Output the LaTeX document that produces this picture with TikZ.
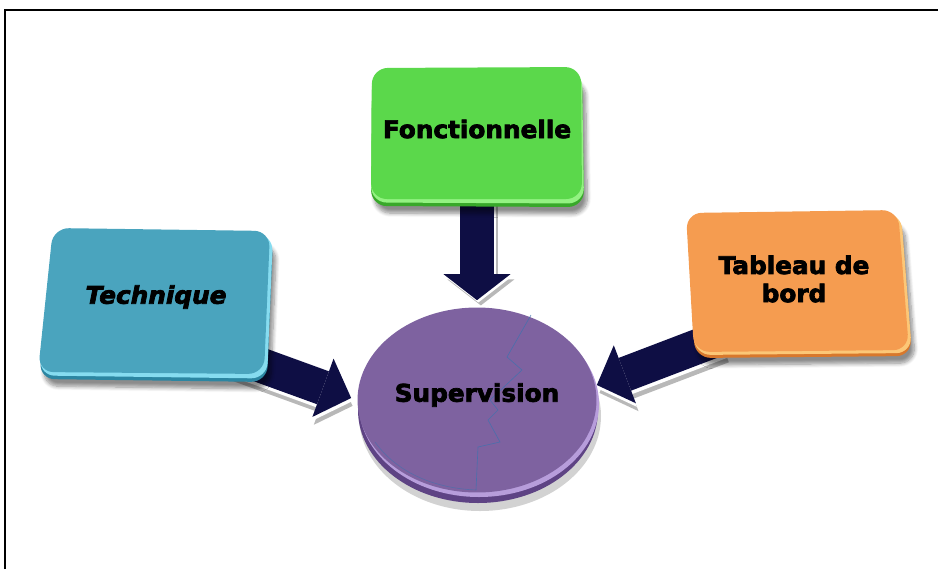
\documentclass[tikz,border=0pt]{standalone}
\usepackage{fontspec}
\setmainfont{DejaVu Sans}
\newfontfamily\labelfont{DejaVu Sans}[UprightFont={* Bold}, ItalicFont={* Bold Oblique},
  BoldFont={* Bold}, BoldItalicFont={* Bold Oblique}, FakeStretch=1.02, FakeBold=3]
\usetikzlibrary{arrows.meta,shapes.geometric,shadows.blur,calc}

\definecolor{techface}{HTML}{4AA4BE}
\definecolor{techlight}{HTML}{86DCF0}
\definecolor{techdark}{HTML}{2C86A2}
\definecolor{fonface}{HTML}{5BD84B}
\definecolor{fonlight}{HTML}{93F282}
\definecolor{fondark}{HTML}{38A82A}
\definecolor{tabface}{HTML}{F59C50}
\definecolor{tablight}{HTML}{FCC777}
\definecolor{tabdark}{HTML}{D8782C}
\definecolor{supface}{HTML}{7E62A0}
\definecolor{supside}{HTML}{5E4384}
\definecolor{suprim}{HTML}{B79DDB}
\definecolor{arrowfill}{HTML}{0E0E44}
\definecolor{crack}{HTML}{3E72AE}

\pgfdeclarelayer{back}
\pgfsetlayers{back,main}

\tikzset{
  label text/.style={font=\labelfont\fontsize{13.8}{16}\selectfont, text=black, align=center, inner sep=0pt},
  slab/.style={rounded corners=9pt},
  slab shadow/.style={blur shadow={shadow xshift=2pt, shadow yshift=-4pt, shadow blur steps=8, shadow opacity=45}},
  blockarrow/.style={line width=0.7cm, draw=arrowfill, line cap=butt,
    -{Triangle[width=1.24cm, length=0.6cm, line width=0pt]}},
  toparrow/.style={blockarrow, -{Triangle[width=1.34cm, length=0.52cm, line width=0pt]}},
  arrowglow/.style={draw=white},
  arrowshade/.style={draw=black!28},
}

\begin{document}
\begin{tikzpicture}[x=0.02cm, y=-0.02cm]
  \useasboundingbox (0,0) rectangle (938,569);

  % page frame (top and left rules)
  \draw[line width=1.3pt] (5,569) -- (5,10) -- (938,10);

  % --- Technique slab ---
  \path[slab, slab shadow, fill=techdark, shift={(1,7)}]
    (53,228) -- (272,231) -- (266,375) -- (38,372) -- cycle;
  \path[slab, fill=techlight, shift={(1,3.5)}]
    (53,228) -- (272,231) -- (266,375) -- (38,372) -- cycle;
  \path[slab, fill=techface]
    (53,228) -- (270,231) -- (264,374) -- (38,372) -- cycle;
  \node[label text, font=\labelfont\itshape\fontsize{13.8}{16}\selectfont] (tech) at (156,297) {Technique};

  % --- Fonctionnelle slab ---
  \path[slab, slab shadow, fill=fondark, shift={(0,7)}]
    (372,68) -- (582,67) -- (584,200) -- (371,199) -- cycle;
  \path[slab, fill=fonlight, shift={(0,3.5)}]
    (372,68) -- (582,67) -- (584,200) -- (371,199) -- cycle;
  \path[slab, fill=fonface]
    (372,68) -- (581,67) -- (582,199) -- (371,199) -- cycle;
  \node[label text] (fon) at (477,129) {Fonctionnelle};

  % --- Tableau de bord slab ---
  \path[slab, slab shadow, fill=tabdark, shift={(1,6)}]
    (686,213) -- (900,210) -- (911,350) -- (694,352) -- cycle;
  \path[slab, fill=tablight, shift={(1,3)}]
    (686,213) -- (900,210) -- (911,350) -- (694,352) -- cycle;
  \path[slab, fill=tabface]
    (686,213) -- (898,210) -- (909,350) -- (694,352) -- cycle;
  \node[label text] (tab) at (794,279) {Tableau de\\bord};

  % --- Supervision disc ---
  \fill[black!25, opacity=0.7] (480,416) ellipse [x radius=121, y radius=95];
  \fill[supside] (478,410) ellipse [x radius=120, y radius=93];
  \fill[suprim] (479,404) ellipse [x radius=120, y radius=93];
  \node[ellipse, fill=supface, minimum width=4.78cm, minimum height=3.7cm,
        inner sep=0pt] (sup) at (477,400) {};
  \draw[crack, line width=0.35pt, opacity=0.8]
    (531,315) -- (507,357) -- (522,370) -- (490,400) -- (498,410) -- (488,420)
    -- (500,442) -- (478,447) -- (476,490);
  \draw[crack, line width=0.35pt, opacity=0.6]
    (375,442) .. controls (395,470) and (430,488) .. (476,490);
  \node[label text] (suptext) at (477,395) {Supervision};

  % --- block arrows into the disc ---
  \coordinate (fstart) at (477,150);
  \coordinate (ftip) at ($(sup.north)+(0,-7)$);
  \coordinate (tstart) at (230,354);
  \coordinate (ttip) at ($(sup.west)+(-6,-2)$);
  \coordinate (bstart) at (720,338);
  \coordinate (btip) at ($(sup.east)+(0,-15)$);

  \begin{pgfonlayer}{back}
    \draw[toparrow, arrowshade, transform canvas={xshift=2.2pt, yshift=-3pt}] (fstart) -- (ftip);
    \draw[toparrow, arrowglow, transform canvas={xshift=0.8pt, yshift=-1.3pt}] (fstart) -- (ftip);
    \draw[toparrow] (fstart) -- (ftip);

    \draw[blockarrow, arrowshade, transform canvas={xshift=0.8pt, yshift=-4.5pt}] (tstart) -- (ttip);
    \draw[blockarrow, arrowglow, transform canvas={xshift=0.3pt, yshift=-2pt}] (tstart) -- (ttip);
    \draw[blockarrow] (tstart) -- (ttip);

    \draw[blockarrow, arrowshade, transform canvas={xshift=1.5pt, yshift=-4.5pt}] (bstart) -- (btip);
    \draw[blockarrow, arrowglow, transform canvas={xshift=0.5pt, yshift=-2pt}] (bstart) -- (btip);
    \draw[blockarrow] (bstart) -- (btip);
  \end{pgfonlayer}
\end{tikzpicture}
\end{document}
